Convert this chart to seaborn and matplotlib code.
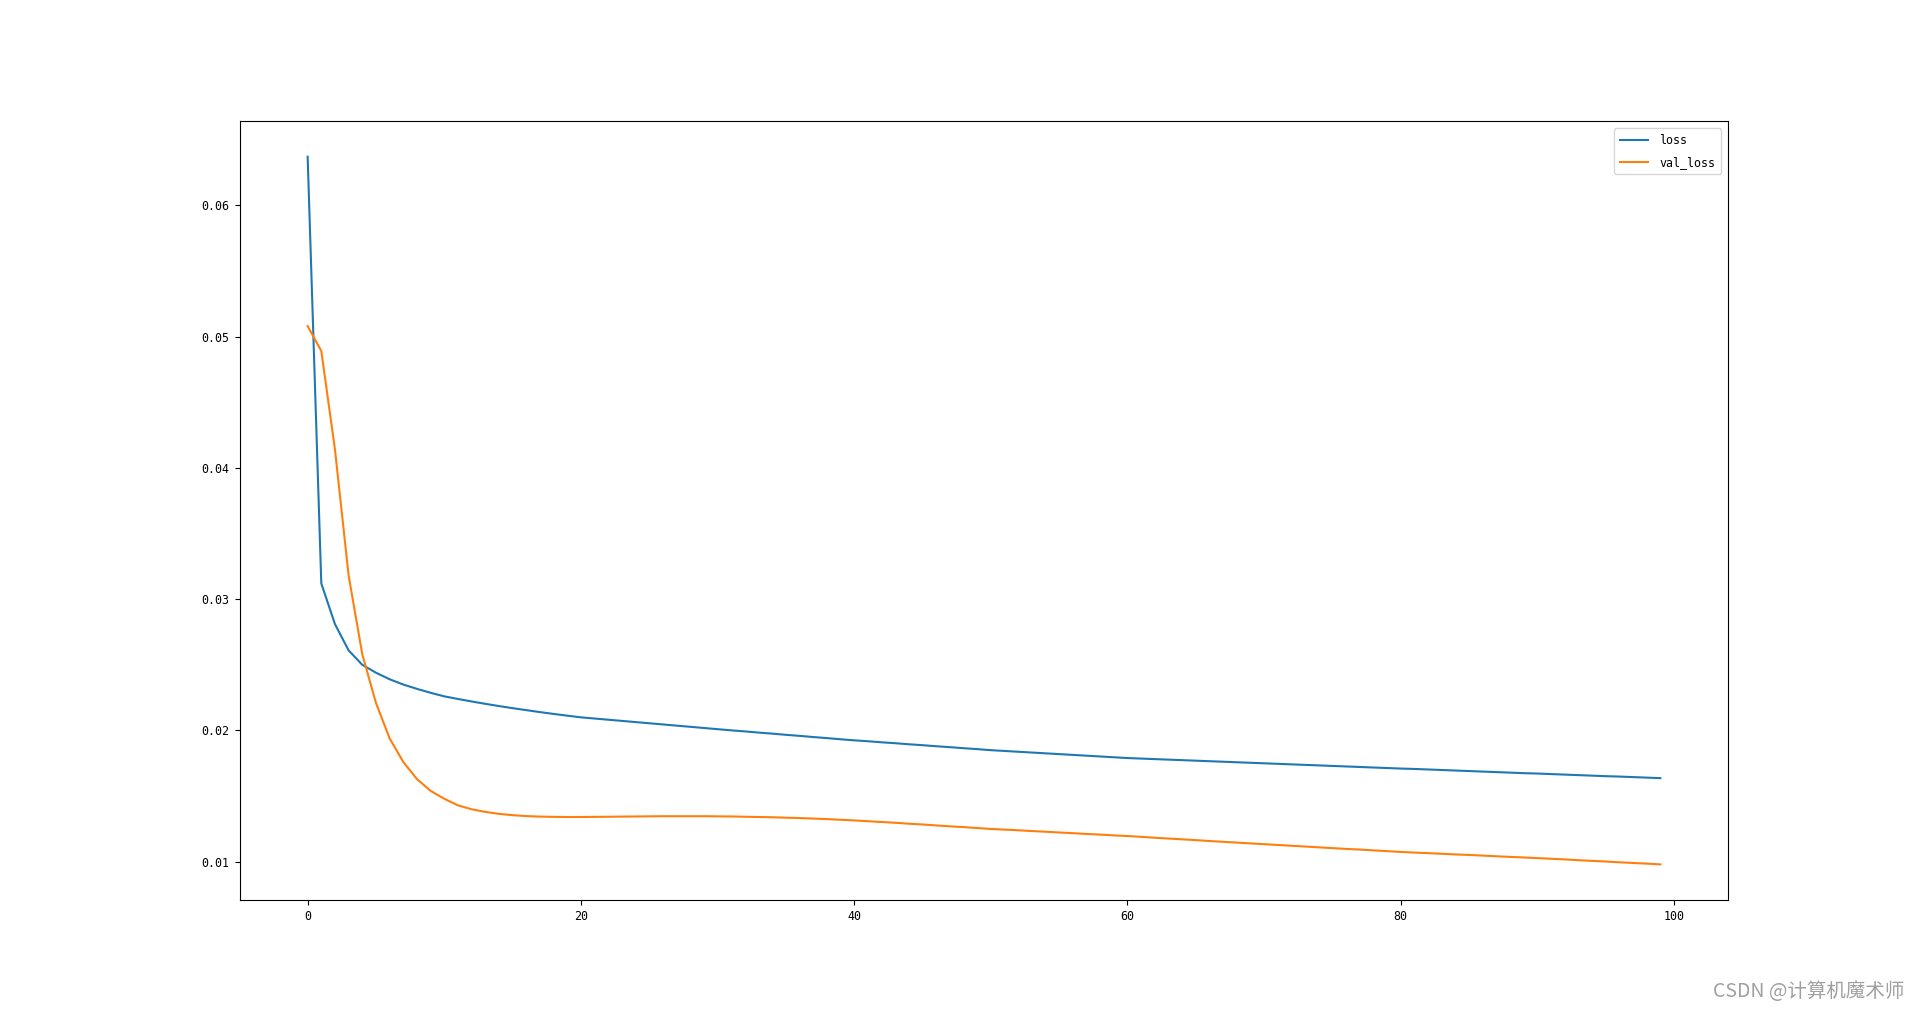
import matplotlib
matplotlib.use("Agg")
import matplotlib.pyplot as plt
import seaborn as sns
import pandas as pd
import numpy as np

epochs = list(range(100))

loss = [
    0.0637, 0.0312, 0.0281, 0.0261, 0.0250, 0.02440, 0.02390, 0.02350, 0.02317, 0.02287,
    0.02260, 0.02240, 0.02221, 0.02203, 0.02186, 0.02170, 0.02155, 0.02140, 0.02126, 0.02113,
    0.02100, 0.02091, 0.02082, 0.02073, 0.02064, 0.02055, 0.02046, 0.02037, 0.02028, 0.02019,
    0.02010, 0.02001, 0.01993, 0.01984, 0.01976, 0.01967, 0.01959, 0.01950, 0.01942, 0.01933,
    0.01925, 0.01918, 0.01910, 0.01903, 0.01895, 0.01888, 0.01880, 0.01873, 0.01865, 0.01858,
    0.01850, 0.01844, 0.01838, 0.01832, 0.01826, 0.01820, 0.01814, 0.01808, 0.01802, 0.01796,
    0.01790, 0.01786, 0.01782, 0.01778, 0.01774, 0.01770, 0.01766, 0.01762, 0.01758, 0.01754,
    0.01750, 0.01746, 0.01742, 0.01738, 0.01734, 0.01730, 0.01726, 0.01722, 0.01718, 0.01714,
    0.01710, 0.01707, 0.01703, 0.01699, 0.01695, 0.01691, 0.01687, 0.01683, 0.01679, 0.01675,
    0.01672, 0.01668, 0.01664, 0.01660, 0.01656, 0.01652, 0.01649, 0.01645, 0.01641, 0.01637,
]

val_loss = [
    0.0508, 0.0489, 0.0414, 0.0318, 0.0258, 0.0221, 0.0194, 0.0176, 0.0163, 0.0154,
    0.0148, 0.0143, 0.0140, 0.0138, 0.01365, 0.01355, 0.01348, 0.01344, 0.01342, 0.01341,
    0.01341, 0.01342, 0.01343, 0.01344, 0.01345, 0.01346, 0.01347, 0.01347, 0.01347, 0.01347,
    0.01346, 0.01345, 0.01343, 0.01341, 0.01339, 0.01336, 0.01333, 0.01329, 0.01325, 0.01320,
    0.01315, 0.01309, 0.01303, 0.01297, 0.01290, 0.01284, 0.01277, 0.01270, 0.01264, 0.01257,
    0.01250, 0.01245, 0.01240, 0.01234, 0.01229, 0.01223, 0.01218, 0.01212, 0.01207, 0.01201,
    0.01196, 0.01190, 0.01183, 0.01177, 0.01171, 0.01165, 0.01158, 0.01152, 0.01146, 0.01140,
    0.01134, 0.01128, 0.01122, 0.01116, 0.01110, 0.01104, 0.01098, 0.01093, 0.01087, 0.01081,
    0.01075, 0.01070, 0.01066, 0.01061, 0.01056, 0.01052, 0.01047, 0.01042, 0.01037, 0.01033,
    0.01028, 0.01023, 0.01018, 0.01012, 0.01007, 0.01002, 0.00996, 0.00991, 0.00986, 0.00980,
]

series_names = ["loss", "val_loss"]
x_ticks = [0, 20, 40, 60, 80, 100]
y_ticks = [0.01, 0.02, 0.03, 0.04, 0.05, 0.06]
watermark = "CSDN @计算机魔术师"

plt.rcParams['font.family'] = ['DejaVu Sans Mono', 'Noto Sans CJK SC']
plt.rcParams['font.size'] = 8.4

fig, ax = plt.subplots(figsize=(19.2, 10.11), dpi=100)
sns.lineplot(x=epochs, y=loss, ax=ax, label=series_names[0], color="#1f77b4", linewidth=1.5)
sns.lineplot(x=epochs, y=val_loss, ax=ax, label=series_names[1], color="#ff7f0e", linewidth=1.5)

ax.set_xticks(x_ticks)
ax.set_yticks(y_ticks)
ax.set_yticklabels([f"{v:.2f}" for v in y_ticks])
ax.tick_params(labelsize=8.4, pad=4.2)
ax.legend(loc="upper right", fontsize=8.4, handlelength=2.4, borderpad=0.48,
          labelspacing=0.75, handletextpad=1.0, borderaxespad=0.6)

fig.text(0.992, 0.019, watermark, ha="right", va="center", fontsize=14,
         color="#a0a0a0", family=['Noto Sans CJK SC', 'DejaVu Sans'])

fig.savefig("out.png", dpi=100)
